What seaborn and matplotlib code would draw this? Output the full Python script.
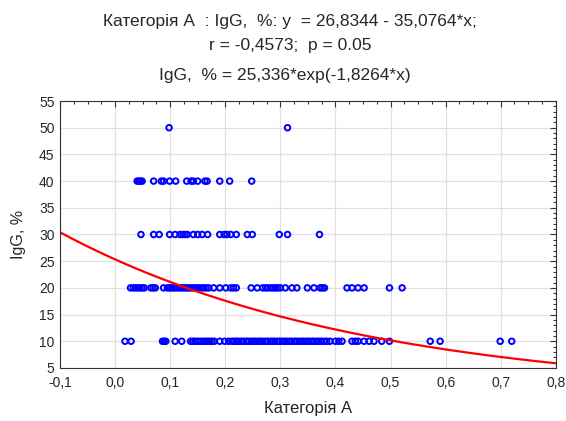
import numpy as np
import pandas as pd
import seaborn as sns
import matplotlib.pyplot as plt
import matplotlib.ticker as mtick

sns.set_theme(style="white")
plt.rcParams["font.family"] = ["Liberation Sans", "DejaVu Sans"]

# x values (Категорія А), grouped by IgG level
x_at_10 = [0.018, 0.029, 0.086, 0.089, 0.092, 0.109, 0.121, 0.137, 0.141, 0.145,
           0.150, 0.155, 0.160, 0.164, 0.168, 0.172, 0.176, 0.180, 0.190, 0.199,
           0.206, 0.212, 0.216, 0.220, 0.224, 0.229, 0.233, 0.238, 0.242, 0.247,
           0.251, 0.255, 0.260, 0.264, 0.268, 0.273, 0.277, 0.282, 0.286, 0.290,
           0.295, 0.299, 0.304, 0.308, 0.312, 0.317, 0.321, 0.326, 0.330, 0.335,
           0.339, 0.343, 0.348, 0.352, 0.357, 0.361, 0.366, 0.370, 0.374, 0.379,
           0.384, 0.390, 0.400, 0.406, 0.412, 0.430, 0.436, 0.441, 0.452, 0.461,
           0.470, 0.484, 0.498, 0.572, 0.590, 0.699, 0.720]
x_at_20 = [0.028, 0.033, 0.037, 0.041, 0.045, 0.049, 0.053, 0.065, 0.069, 0.073,
           0.088, 0.095, 0.099, 0.103, 0.107, 0.111, 0.116, 0.120, 0.124, 0.128,
           0.132, 0.136, 0.140, 0.144, 0.148, 0.152, 0.157, 0.161, 0.165, 0.170,
           0.179, 0.190, 0.201, 0.210, 0.215, 0.220, 0.247, 0.258, 0.268, 0.273,
           0.277, 0.282, 0.287, 0.291, 0.295, 0.300, 0.309, 0.321, 0.330, 0.349,
           0.361, 0.372, 0.376, 0.380, 0.421, 0.430, 0.441, 0.452, 0.498, 0.521]
x_at_30 = [0.047, 0.070, 0.080, 0.099, 0.109, 0.118, 0.123, 0.127, 0.131, 0.142,
           0.150, 0.158, 0.168, 0.190, 0.198, 0.203, 0.210, 0.220, 0.240, 0.249,
           0.298, 0.313, 0.371]
x_at_40 = [0.040, 0.043, 0.046, 0.049, 0.070, 0.084, 0.088, 0.099, 0.110, 0.130,
           0.138, 0.142, 0.150, 0.163, 0.167, 0.190, 0.208, 0.248]
x_at_50 = [0.098, 0.313]

# exponential fit from the title: IgG = a*exp(b*x)
fit_a = 25.336
fit_b = -1.8264

levels = {10: x_at_10, 20: x_at_20, 30: x_at_30, 40: x_at_40, 50: x_at_50}
df = pd.DataFrame(
    [(x, y) for y, xs in levels.items() for x in xs], columns=["Категорія А", "IgG, %"]
)

xs = np.linspace(-0.1, 0.8, 200)
fit = pd.DataFrame({"x": xs, "y": fit_a * np.exp(fit_b * xs)})

fig = plt.figure(figsize=(5.66, 4.21), dpi=100)
ax = fig.add_axes([0.106, 0.126, 0.876, 0.634])

sns.scatterplot(
    data=df, x="Категорія А", y="IgG, %", ax=ax,
    marker="o", s=16, facecolor="none", edgecolor="#0000ff", linewidth=1.4,
)
sns.lineplot(data=fit, x="x", y="y", ax=ax, color="#ff0000", linewidth=1.6)

ax.set_xlim(-0.1, 0.8)
ax.set_ylim(5, 55)
ax.xaxis.set_major_locator(mtick.MultipleLocator(0.1))
ax.xaxis.set_minor_locator(mtick.MultipleLocator(0.025))
ax.yaxis.set_major_locator(mtick.MultipleLocator(5))
ax.yaxis.set_minor_locator(mtick.MultipleLocator(1))
ax.xaxis.set_major_formatter(
    mtick.FuncFormatter(lambda v, p: f"{v:.1f}".replace(".", ",").replace("-0,0", "0,0"))
)
ax.yaxis.set_major_formatter(mtick.FuncFormatter(lambda v, p: f"{v:.0f}"))
ax.tick_params(which="both", direction="in", top=True, right=True, color="#333333",
               labelsize=10, width=0.8)
ax.tick_params(which="major", length=4)
ax.tick_params(which="minor", length=2)
ax.tick_params(axis="x", which="major", pad=6)
ax.tick_params(axis="y", which="major", pad=4)
ax.grid(True, which="major", color="#e0e0e0", linewidth=0.9)
for s in ax.spines.values():
    s.set_color("#333333")
    s.set_linewidth(0.8)

ax.set_xlabel("Категорія А", fontsize=12, labelpad=8)
ax.set_ylabel("IgG, %", fontsize=11.5, labelpad=9)

fig.text(0.512, 0.950, "Категорія А  : IgG,  %: y  = 26,8344 - 35,0764*x;",
         ha="center", va="center", fontsize=12.5)
fig.text(0.512, 0.893, "r = -0,4573;  p = 0.05", ha="center", va="center", fontsize=12.5)
fig.text(0.504, 0.821, "IgG,  % = 25,336*exp(-1,8264*x)", ha="center", va="center",
         fontsize=12.5)

fig.savefig("out.png", dpi=100)
